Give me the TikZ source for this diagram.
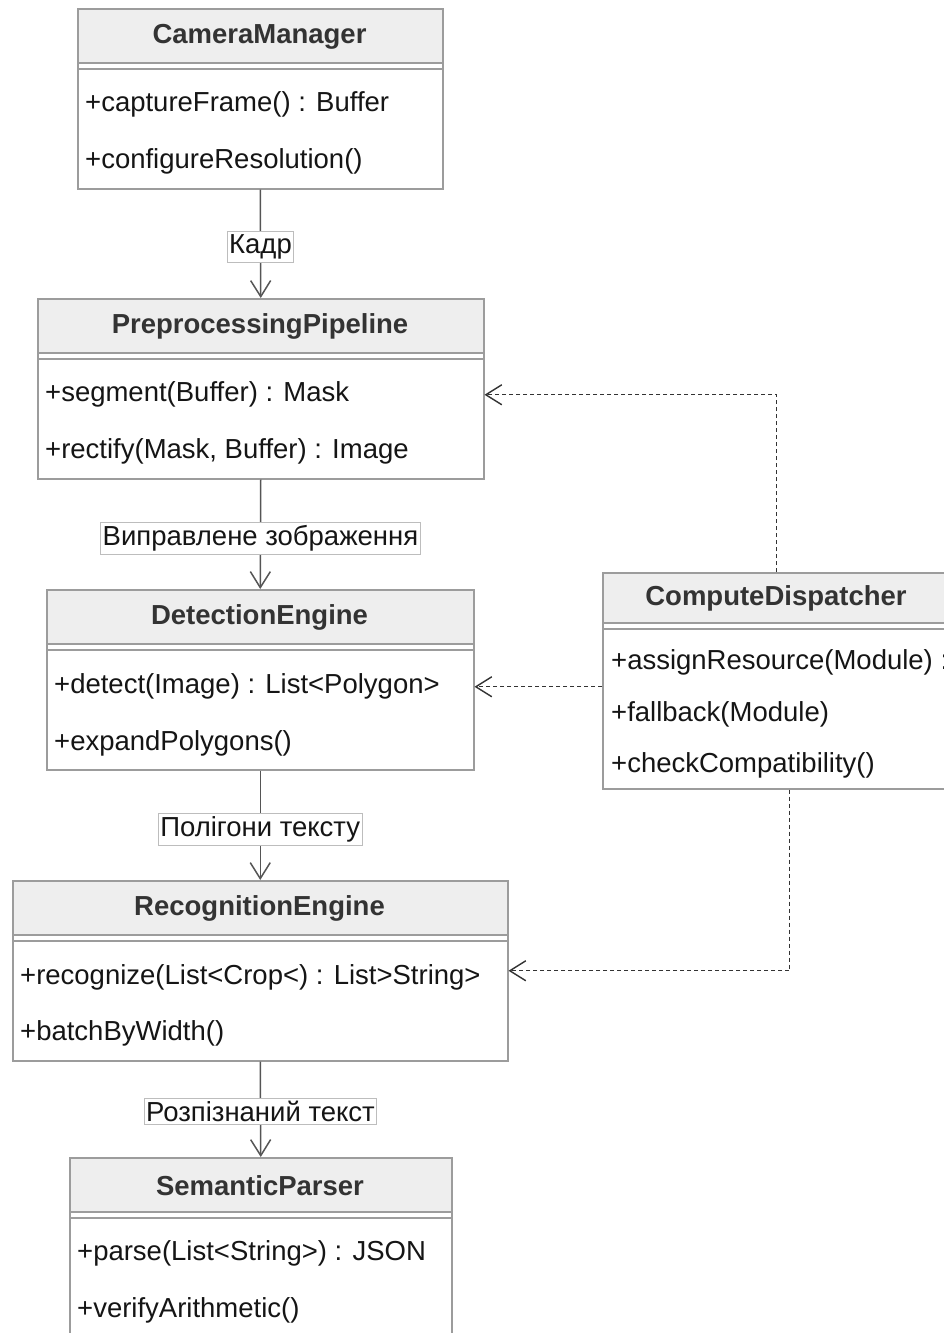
\documentclass[tikz,border=0pt]{standalone}
\usepackage{fontspec}
\setmainfont{Liberation Sans}
\usetikzlibrary{arrows.meta}
\definecolor{bordc}{HTML}{9C9C9C}
\definecolor{headf}{HTML}{EEEEEE}
\definecolor{headt}{HTML}{333333}
\definecolor{linec}{HTML}{555555}
\definecolor{lblb}{HTML}{BDBDBD}
\definecolor{txtc}{HTML}{151515}
\tikzset{
  classframe/.style={draw=bordc, line width=1.5pt, inner sep=0pt, anchor=north west},
  sepline/.style={draw=bordc, line width=1.5pt},
  ctitle/.style={font=\fontsize{27.5}{33}\selectfont\bfseries, text=headt, inner sep=0pt},
  meth/.style={font=\fontsize{27.5}{33}\selectfont, text=txtc, anchor=west, inner sep=0pt},
  flow/.style={draw=linec, line width=1.5pt, -{Straight Barb[length=16pt,width=20pt]}},
  dep/.style={draw=black!80, line width=1.4pt, dash pattern=on 4pt off 3pt, -{Straight Barb[length=16pt,width=20pt]}},
  lbl/.style={font=\fontsize{27.5}{33}\selectfont, fill=white, draw=lblb, line width=0.8pt, inner xsep=2pt, inner ysep=3pt, text=txtc},
}
\newcommand\classbox[7]{%
  \fill[headf] (#2,#3) rectangle (#4,#3+#6);
  \draw[sepline] (#2,#3+#6) -- (#4,#3+#6);
  \draw[sepline] (#2,#3+#6+6) -- (#4,#3+#6+6);
  \node[classframe, minimum width={(#4-#2)*1pt}, minimum height={(#5-#3)*1pt}] (#1) at (#2,#3) {};
  \node[ctitle] (#1-t) at ({(#2+#4)/2},{#3+#6/2+1}) {#7};
}
\begin{document}
\begin{tikzpicture}[x=1pt,y=-1pt]
\useasboundingbox (0,0) rectangle (944,1333);
\clip (0,0) rectangle (944,1333);
\fill[white] (0,0) rectangle (944,1333);

% CameraManager
\classbox{cam}{77}{8}{442}{188}{55}{CameraManager}
\node[meth] (cam-m1) at (85,104) {+captureFrame() : Buffer};
\node[meth] (cam-m2) at (85,161) {+configureResolution()};

% PreprocessingPipeline
\classbox{pre}{37}{298}{483}{478}{55}{PreprocessingPipeline}
\node[meth] (pre-m1) at (45,394) {+segment(Buffer) : Mask};
\node[meth] (pre-m2) at (45,451) {+rectify(Mask, Buffer) : Image};

% DetectionEngine
\classbox{det}{46}{589}{473}{769}{55}{DetectionEngine}
\node[meth] (det-m1) at (54,686) {+detect(Image) : List<Polygon>};
\node[meth] (det-m2) at (54,743) {+expandPolygons()};

% RecognitionEngine
\classbox{rec}{12}{880}{507}{1060}{55}{RecognitionEngine}
\node[meth] (rec-m1) at (20,977) {+recognize(List<Crop<) : List>String>};
\node[meth] (rec-m2) at (20,1033) {+batchByWidth()};

% SemanticParser
\classbox{sem}{69}{1157}{451}{1337}{55}{SemanticParser}
\node[meth] (sem-m1) at (77,1253) {+parse(List<String>) : JSON};
\node[meth] (sem-m2) at (77,1310) {+verifyArithmetic()};

% ComputeDispatcher
\classbox{cd}{602}{572}{950}{788}{51}{ComputeDispatcher}
\node[meth] (cd-m1) at (611,662) {+assignResource(Module) :};
\node[meth] (cd-m2) at (611,714) {+fallback(Module)};
\node[meth] (cd-m3) at (611,765) {+checkCompatibility()};

% flows
\draw[flow] (cam.south) -- node[lbl, yshift=-3pt] {Кадр} (pre.north);
\draw[flow] (pre.south) -- node[lbl, yshift=-4pt] {Виправлене зображення} (det.north);
\draw[flow] (det.south) -- node[lbl, yshift=-4pt] {Полігони тексту} (rec.north);
\draw[flow] (rec.south) -- node[lbl, yshift=-2pt] {Розпізнаний текст} (sem.north);

% dependencies
\draw[dep] (cd.north) |- ([yshift=-6pt]pre.east);
\draw[dep] ([yshift=-6pt]cd.west) -- ([yshift=-6pt]cd.west -| det.east);
\draw[dep] ([xshift=13pt]cd.south) |- (rec.east);
\end{tikzpicture}
\end{document}
